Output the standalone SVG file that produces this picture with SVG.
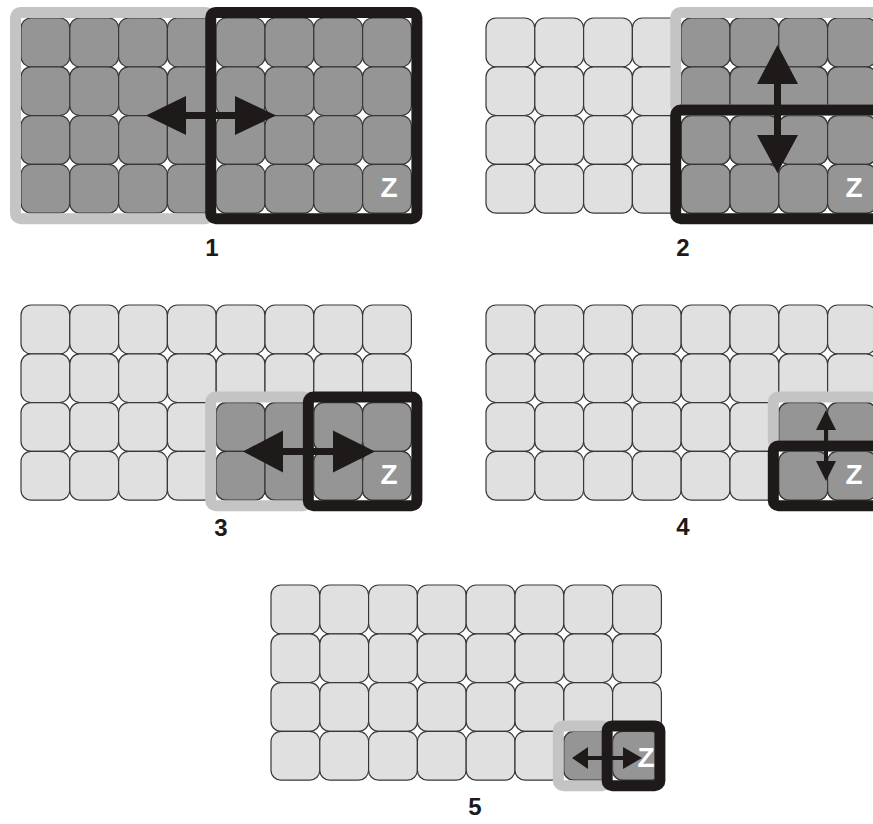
<svg xmlns="http://www.w3.org/2000/svg" xmlns:xlink="http://www.w3.org/1999/xlink" width="873" height="824" viewBox="0 0 873 824">
<style>
.lt{fill:#e0e0e0;stroke:#383838;stroke-width:1.2}
.dk{fill:#959595;stroke:#383838;stroke-width:1.2}
.fl{fill:none;stroke:#c4c4c4;stroke-width:11}
.fb{fill:none;stroke:#1e1a19;stroke-width:11}
.z{font-family:"Liberation Sans",Arial,sans-serif;font-weight:bold;font-size:28px;fill:#ffffff;text-anchor:middle}
.lb{font-family:"Liberation Sans",Arial,sans-serif;font-weight:bold;font-size:24px;fill:#1e1a19;text-anchor:middle}
.ar{fill:#1e1a19}
</style>
<defs>
<rect id="c" width="48.8" height="48.8" rx="10"/>
<g id="r2"><use href="#c"/><use href="#c" x="48.8"/></g>
<g id="r4"><use href="#r2"/><use href="#r2" x="97.6"/></g>
<g id="r8"><use href="#r4"/><use href="#r4" x="195.2"/></g>
<g id="b44"><use href="#r4"/><use href="#r4" y="48.8"/><use href="#r4" y="97.6"/><use href="#r4" y="146.4"/></g>
<g id="grid"><use href="#r8"/><use href="#r8" y="48.8"/><use href="#r8" y="97.6"/><use href="#r8" y="146.4"/></g>
</defs>
<rect width="873" height="824" fill="#ffffff"/>
<g id="panel1" transform="translate(21,18)">
<use href="#grid" class="dk"/>
<rect class="fl" x="-5.5" y="-5.5" width="195.2" height="206.2" rx="5"/>
<rect class="fb" x="189.7" y="-5.5" width="206.2" height="206.2" rx="5"/>
<text class="z" x="368" y="179">Z</text>
</g>
<g id="panel2" transform="translate(486,18)">
<use href="#grid" class="lt"/>
<use href="#b44" class="dk" x="195.2"/>
<rect class="fl" x="189.7" y="-5.5" width="206.2" height="97.6" rx="5"/>
<rect class="fb" x="189.7" y="92.1" width="206.2" height="108.6" rx="5"/>
<text class="z" x="368" y="179">Z</text>
</g>
<g id="panel3" transform="translate(21,305)">
<use href="#grid" class="lt"/>
<use href="#r4" class="dk" x="195.2" y="97.6"/>
<use href="#r4" class="dk" x="195.2" y="146.4"/>
<rect class="fl" x="189.7" y="92.1" width="97.6" height="108.6" rx="5"/>
<rect class="fb" x="287.3" y="92.1" width="108.6" height="108.6" rx="5"/>
<text class="z" x="368" y="179">Z</text>
</g>
<g id="panel4" transform="translate(486,305)">
<use href="#grid" class="lt"/>
<use href="#r2" class="dk" x="292.8" y="97.6"/>
<use href="#r2" class="dk" x="292.8" y="146.4"/>
<rect class="fl" x="287.3" y="92.1" width="108.6" height="48.8" rx="5"/>
<rect class="fb" x="287.3" y="140.9" width="108.6" height="59.8" rx="5"/>
<text class="z" x="368" y="179">Z</text>
</g>
<g id="panel5" transform="translate(271,585)">
<use href="#grid" class="lt"/>
<use href="#r2" class="dk" x="292.8" y="146.4"/>
<rect class="fl" x="287.3" y="140.9" width="48.8" height="59.8" rx="5"/>
<rect class="fb" x="336.1" y="140.9" width="52.8" height="59.8" rx="5"/>
<text class="z" x="375" y="182">Z</text>
</g>
<g id="connectors">
<polygon class="ar" points="146,115.6 186,96 186,112 235,112 235,96 276,115.6 235,135 235,119 186,119 186,135"/>
<polygon class="ar" points="777.5,45 798,84 781,84 781,135 798,135 777.5,173 757,135 774,135 774,84 757,84"/>
<polygon class="ar" points="243,451.4 283,430.4 283,448 333,448 333,430.4 375,451.4 333,472.4 333,455 283,455 283,472.4"/>
<polygon class="ar" points="826,410 836,430 828,430 828,461 836,461 826,481 816,461 824,461 824,430 816,430"/>
<polygon class="ar" points="572,758 588,747 588,756 623,756 623,747 642,758 623,769 623,760 588,760 588,769"/>
</g>
<g id="labels">
<text class="lb" x="212" y="256">1</text>
<text class="lb" x="683" y="256">2</text>
<text class="lb" x="221" y="536">3</text>
<text class="lb" x="683" y="535">4</text>
<text class="lb" x="475" y="815">5</text>
</g>
</svg>
